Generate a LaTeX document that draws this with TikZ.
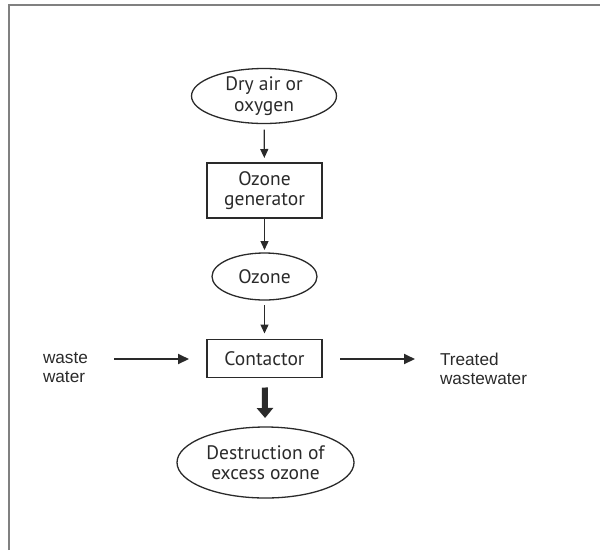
\documentclass[tikz,border=0pt]{standalone}
\usepackage{fontspec}
\newfontfamily\arialf{Liberation Sans}
\newfontfamily\myr{PT Sans}
\usetikzlibrary{arrows.meta,shapes.geometric}
\definecolor{ink}{HTML}{2A2A2A}
\definecolor{frame}{HTML}{808080}
\begin{document}
\begin{tikzpicture}[x=1pt,y=-1pt,
  every node/.style={inner sep=0pt, outer sep=0pt, text=ink},
  lbl/.style={font=\myr\fontsize{19.5}{20.5}\selectfont, align=center},
  ell/.style={ellipse, draw=ink, line width=1.3pt, lbl},
  rbox/.style={rectangle, draw=ink, line width=1.2pt, lbl},
  side/.style={font=\arialf\fontsize{17.2}{19}\selectfont, align=left, anchor=west},
  arr/.style={draw=ink, line width=1.3pt, -{Triangle[length=9pt,width=8pt]}},
  harr/.style={draw=ink, line width=2pt, -{Triangle[length=11pt,width=10pt]}},
  fat/.style={draw=ink, line width=6pt, -{Triangle[length=10pt,width=16pt]}}
]
\useasboundingbox (0,0) rectangle (600,550);
\draw[frame, line width=1.3pt] (9,550) -- (9,5) -- (600,5);

\node[ell, minimum width=145pt, minimum height=55pt] (dry) at (264,96) {Dry air or\\oxygen};
\node[rbox, minimum width=115pt, minimum height=55pt] (gen) at (264.5,190.5) {Ozone\\generator};
\node[ell, minimum width=105pt, minimum height=47pt] (oz) at (264.5,276.5) {Ozone};
\node[rbox, minimum width=115pt, minimum height=38pt] (con) at (264.5,358.5) {Contactor};
\node[ell, minimum width=177pt, minimum height=71pt] (des) at (265.5,462.5) {Destruction of\\excess ozone};

\node[side] (ww) at (43,368) {waste\\water};
\node[side] (tw) at (440,369) {Treated\\wastewater};

\coordinate (wwe) at (114,359);
\coordinate (twe) at (415,359);

\draw[arr, shorten <=6pt, shorten >=5pt] (dry) -- (gen);
\draw[arr, shorten >=3pt] (gen) -- (oz);
\draw[arr, shorten <=5pt, shorten >=6pt] (oz) -- (con);
\draw[fat, shorten <=10pt, shorten >=9pt] (con) -- (des);
\draw[harr] (wwe) -- (189,359);
\draw[harr] (340,359) -- (twe);
\end{tikzpicture}
\end{document}
